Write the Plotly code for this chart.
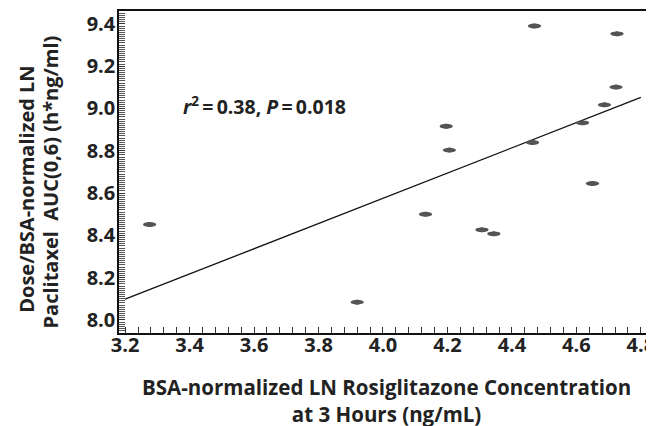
import plotly.graph_objects as go

# Data
rosi_conc = [3.276, 3.920, 4.132, 4.196, 4.206, 4.307, 4.344, 4.464, 4.470,
             4.619, 4.650, 4.687, 4.723, 4.726]
ptx_auc = [8.451, 8.084, 8.500, 8.916, 8.803, 8.426, 8.407, 8.839, 9.390,
           8.932, 8.645, 9.017, 9.101, 9.353]
fit_x = [3.2, 4.8]
fit_y = [8.098, 9.052]
x_ticks = [3.2, 3.4, 3.6, 3.8, 4.0, 4.2, 4.4, 4.6, 4.8]
y_ticks = [8.0, 8.2, 8.4, 8.6, 8.8, 9.0, 9.2, 9.4]

FONT = "Open Sans"
TXT = "#222222"
DOT = "#545454"

fig = go.Figure()
fig.add_trace(go.Scatter(x=fit_x, y=fit_y, mode="lines",
                         line=dict(color="#111111", width=1.3),
                         showlegend=False, hoverinfo="skip"))
fig.add_trace(go.Scatter(x=rosi_conc, y=ptx_auc, mode="markers",
                         marker=dict(size=5, color=DOT, line=dict(width=0)),
                         showlegend=False))

# elliptical dots (wider than tall), drawn in data coordinates
dx, dy = 0.0205, 0.0115
for xv, yv in zip(rosi_conc, ptx_auc):
    fig.add_shape(type="circle", xref="x", yref="y",
                  x0=xv - dx, x1=xv + dx, y0=yv - dy, y1=yv + dy,
                  fillcolor=DOT, line=dict(width=0), layer="above")

fig.add_annotation(xref="paper", yref="paper", x=0.118, y=0.708,
                   xanchor="left", yanchor="middle", showarrow=False,
                   text="<b><i>r</i><sup>2</sup>\u2009=\u20090.38, <i>P</i>\u2009=\u20090.018</b>",
                   font=dict(family=FONT, size=19.5, color=TXT))

# y-axis title (two lines, rotated)
fig.add_annotation(xref="paper", yref="paper", x=-0.177, y=0.447,
                   xanchor="center", yanchor="middle", showarrow=False,
                   textangle=-90, text="<b>Dose/BSA-normalized LN</b>",
                   font=dict(family=FONT, size=20, color=TXT))
fig.add_annotation(xref="paper", yref="paper", x=-0.130, y=0.469,
                   xanchor="center", yanchor="middle", showarrow=False,
                   textangle=-90, text="<b>Paclitaxel  AUC(0,6) (h*ng/ml)</b>",
                   font=dict(family=FONT, size=20, color=TXT))

# x-axis title (two lines)
fig.add_annotation(xref="paper", yref="paper", x=0.508, y=-0.211,
                   xanchor="center", yanchor="middle", showarrow=False,
                   text="<b>BSA-normalized LN Rosiglitazone Concentration<br>at 3 Hours (ng/mL)</b>",
                   font=dict(family=FONT, size=20.5, color=TXT))

axis_common = dict(showline=True, linecolor="#111111", linewidth=1.5,
                   mirror=True, showgrid=False, zeroline=False,
                   automargin=False, ticklabeloverflow="allow",
                   ticks="inside", tickcolor="#333333", tickwidth=1,
                   tickfont=dict(family=FONT, size=20, color=TXT))

fig.update_xaxes(range=[3.181, 4.816], tickvals=x_ticks,
                 ticktext=[f"<b>{v:.1f}</b>" for v in x_ticks], ticklen=6,
                 ticklabelstandoff=-7,
                 minor=dict(dtick=0.04, tick0=3.2, ticks="inside", ticklen=6,
                            tickcolor="#333333"),
                 **axis_common)
fig.update_yaxes(range=[7.938, 9.461], tickvals=y_ticks,
                 ticktext=[f"<b>{v:.1f}</b>" for v in y_ticks], ticklen=6,
                 ticklabelstandoff=-2,
                 minor=dict(dtick=0.01, tick0=8.0, ticks="inside", ticklen=6,
                            tickcolor="#555555"),
                 **axis_common)

# the page body has an 8px margin, so the figure is sized to end at the window edge
fig.update_layout(width=646, height=418,
                  margin=dict(l=110.5, r=8, t=3, b=93),
                  plot_bgcolor="white", paper_bgcolor="white")

fig.write_html("out.html")
